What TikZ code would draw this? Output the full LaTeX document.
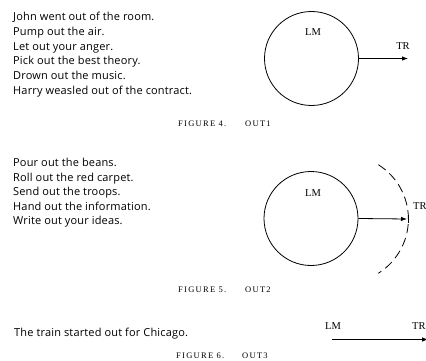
\documentclass[tikz,border=0pt]{standalone}
\usepackage{fontspec}
\setmainfont{Liberation Serif}
\newfontfamily\exfont[LetterSpace=1.5]{Open Sans}
\newfontfamily\capfont[LetterSpace=15]{Liberation Serif}
\usetikzlibrary{arrows.meta}
\tikzset{
  example/.style={anchor=base west, inner sep=0pt, font=\exfont\fontsize{11}{13}\selectfont},
  caption/.style={anchor=base west, inner sep=0pt, font=\capfont\fontsize{8.5}{10}\selectfont},
  role/.style={inner sep=0pt, font=\fontsize{10.5}{12}\selectfont},
  landmark/.style={draw, circle, line width=0.8pt, minimum size=94pt, inner sep=0pt},
  path/.style={line width=0.8pt, -{Latex[length=6pt,width=4.5pt]}},
  bound/.style={line width=0.8pt, dash pattern=on 9pt off 5pt},
}
\begin{document}
\begin{tikzpicture}[x=1pt,y=-1pt]
\useasboundingbox (0,0) rectangle (426,361);

% OUT1 examples
\node[example] (a1) at (13,21) {John went out of the room.};
\node[example] (a2) at (13,36) {Pump out the air.};
\node[example] (a3) at (13,50.5) {Let out your anger.};
\node[example] (a4) at (13,65) {Pick out the best theory.};
\node[example] (a5) at (13,80) {Drown out the music.};
\node[example] (a6) at (13,95) {Harry weasled out of the contract.};

% OUT1 schema
\node[landmark] (lm1) at (311.5,58.5) {};
\node[role] (lm1t) at (313,32) {LM};
\coordinate (tr1) at (408,58.5);
\draw[path] (lm1.east) -- (tr1);
\node[role] (tr1t) at (403,46) {TR};
\node[caption] (c4) at (178,126) {FIGURE\ 4.};
\node[caption] (c4b) at (245,126) {OUT1};

% OUT2 examples
\node[example] (b1) at (13,166.5) {Pour out the beans.};
\node[example] (b2) at (13,181) {Roll out the red carpet.};
\node[example] (b3) at (13,195.5) {Send out the troops.};
\node[example] (b4) at (13,210) {Hand out the information.};
\node[example] (b5) at (13,224.5) {Write out your ideas.};

% OUT2 schema: landmark, path ending at the dashed boundary
\node[landmark] (lm2) at (311,218.5) {};
\node[role] (lm2t) at (313,193) {LM};
\coordinate (tr2) at (407,219);
\draw[path] (lm2.east) -- (tr2);
\draw[line width=0.8pt] (408,215) -- (408,223);
\coordinate (arcc) at (344.4,219);
\draw[bound] (arcc) ++(-58:64) arc[start angle=-58, end angle=58, radius=64];
\node[role, anchor=west] (tr2t) at (413,206.5) {TR};
\node[caption] (c5) at (178,292) {FIGURE\ 5.};
\node[caption] (c5b) at (245,292) {OUT2};

% OUT3
\node[example] (d1) at (14,336.5) {The train started out for Chicago.};
\node[role] (lm3t) at (333,326) {LM};
\coordinate (s3) at (332,339.5);
\coordinate (tr3) at (428,339.5);
\draw[path] (s3) -- (tr3);
\node[role, anchor=west] (tr3t) at (412,326) {TR};
\node[caption] (c6) at (176,358) {FIGURE\ 6.};
\node[caption] (c6b) at (242,358) {OUT3};
\end{tikzpicture}
\end{document}
